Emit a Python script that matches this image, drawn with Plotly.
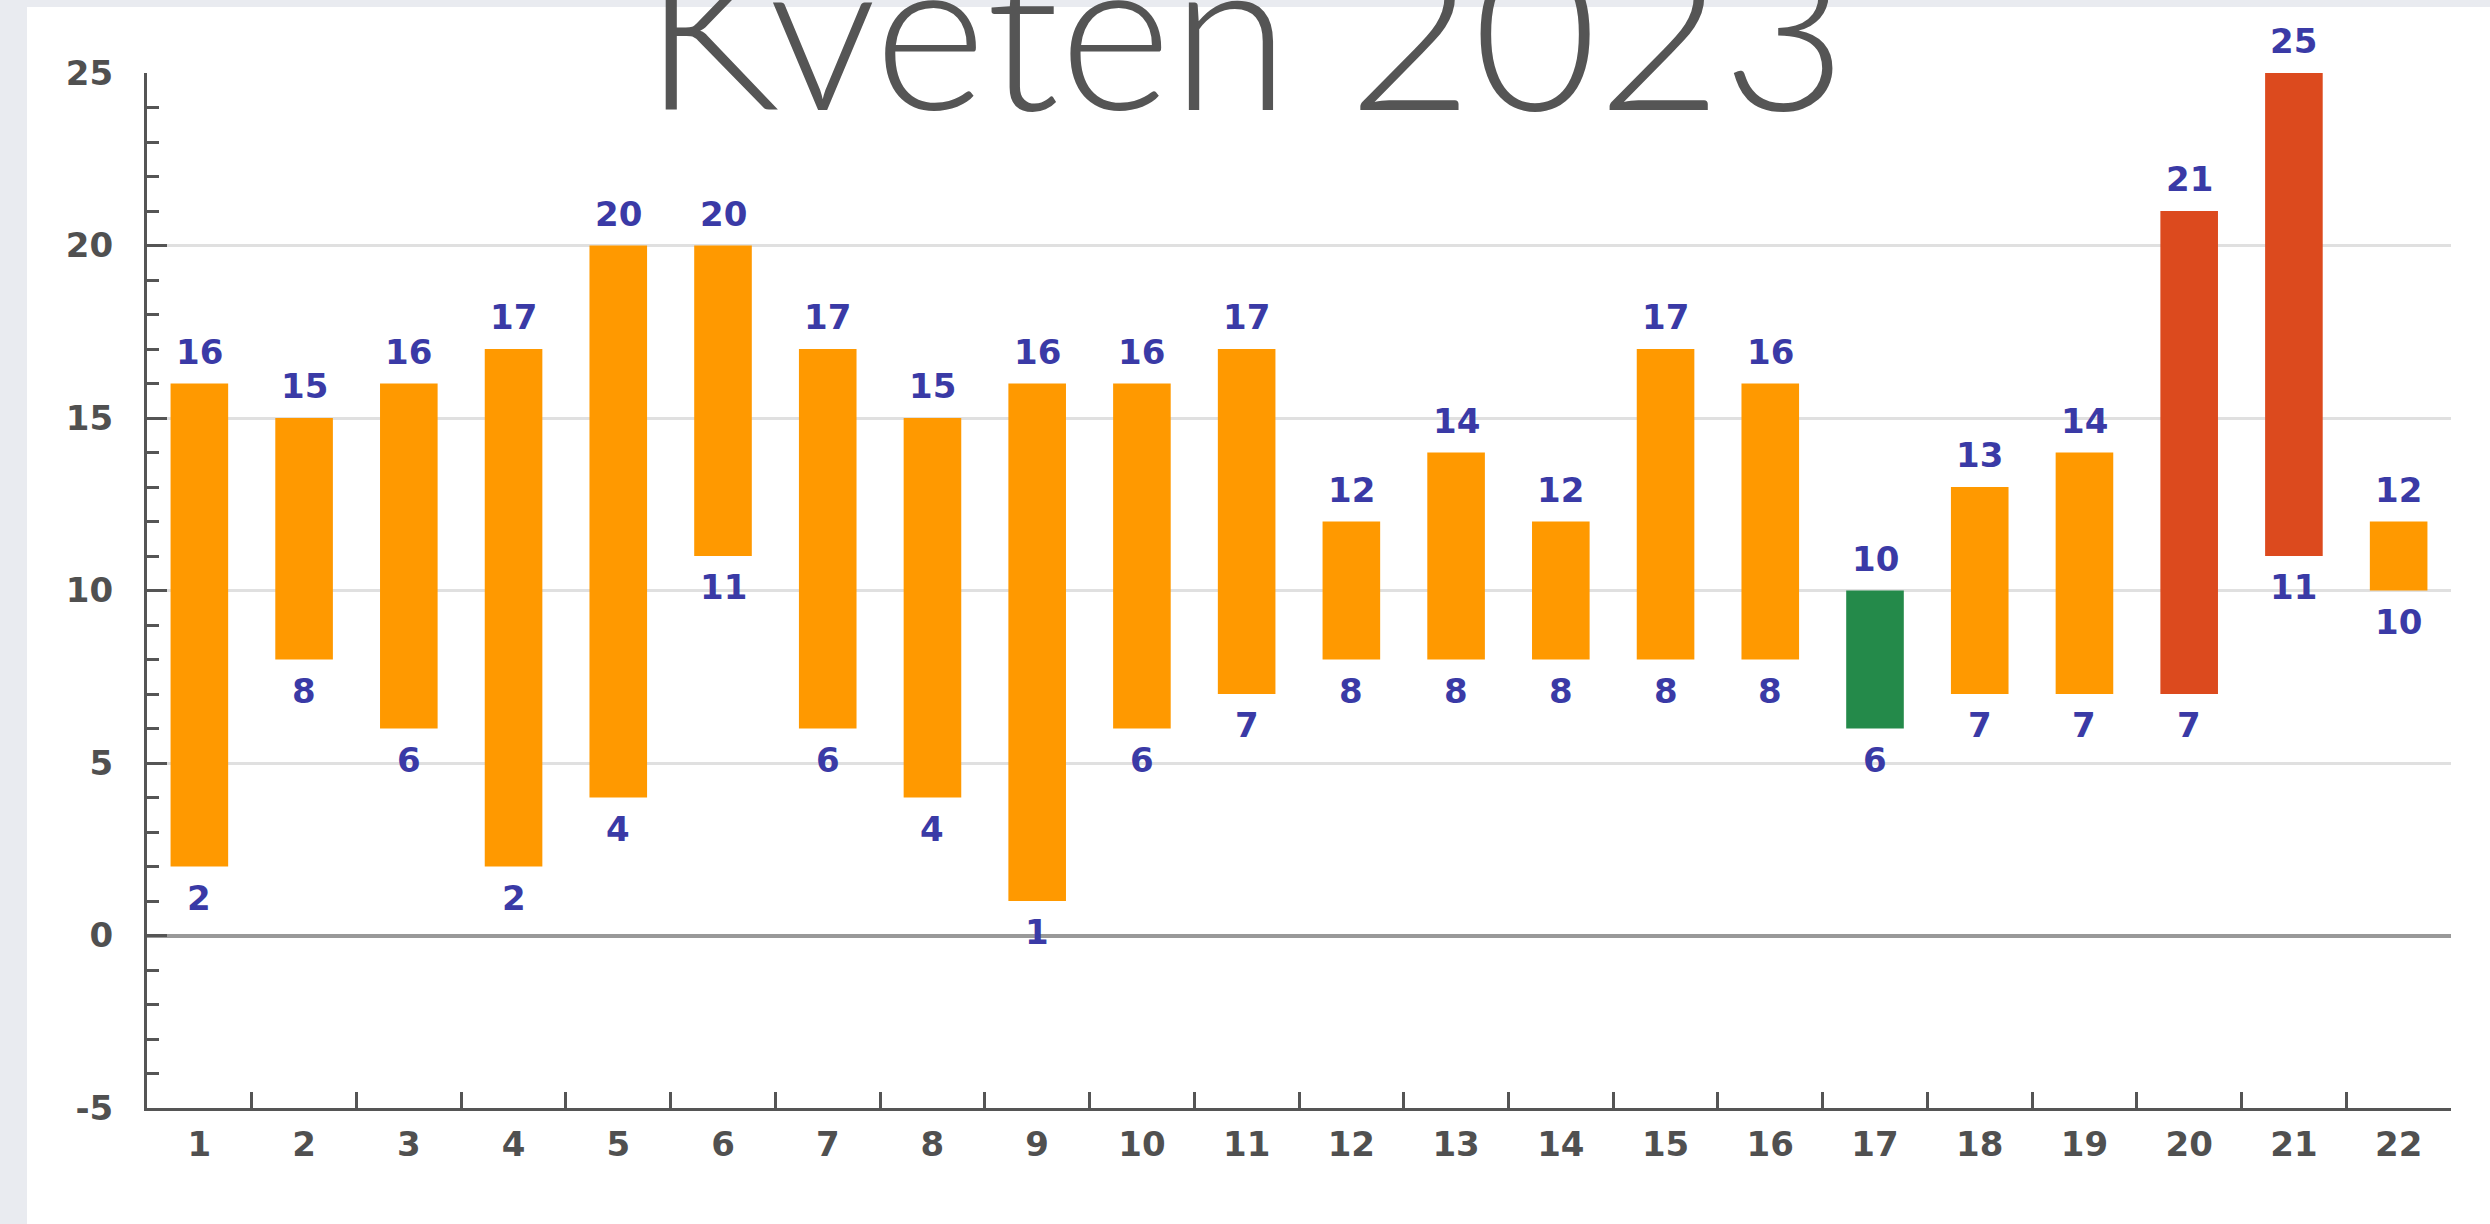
import plotly.graph_objects as go

# ---- data ----
days = ["1", "2", "3", "4", "5", "6", "7", "8", "9", "10", "11",
        "12", "13", "14", "15", "16", "17", "18", "19", "20", "21", "22"]
highs = [16, 15, 16, 17, 20, 20, 17, 15, 16, 16, 17, 12, 14, 12, 17, 16, 10, 13, 14, 21, 25, 12]
lows = [2, 8, 6, 2, 4, 11, 6, 4, 1, 6, 7, 8, 8, 8, 8, 8, 6, 7, 7, 7, 11, 10]
day_kind = ["normal", "normal", "normal", "normal", "normal", "normal", "normal", "normal",
            "normal", "normal", "normal", "normal", "normal", "normal", "normal", "normal",
            "cold", "normal", "normal", "hot", "hot", "normal"]
y_ticks = [-5, 0, 5, 10, 15, 20, 25]
y_tick_text = ["-5", "0", "5", "10", "15", "20", "25"]
title_text = "Květen 2023"

# ---- styles ----
kind_colors = {"normal": "#ff9900", "cold": "#248a4a", "hot": "#dc4a1e"}
label_color = "#3a3aa6"
axis_color = "#555555"
font_family = "DejaVu Sans"
fs = 34

fig = go.Figure()
fig.add_trace(go.Bar(
    x=days,
    y=[h - l for h, l in zip(highs, lows)],
    base=lows,
    width=0.55,
    marker=dict(color=[kind_colors[k] for k in day_kind], line=dict(width=0)),
    hoverinfo="skip",
))

annotations = []
for i, (h, l) in enumerate(zip(highs, lows)):
    # i is the category position of days[i] on the category axis
    annotations.append(dict(x=i, y=h, xref="x", yref="y", text=str(h), showarrow=False,
                            yanchor="bottom", yshift=10,
                            font=dict(family=font_family, size=fs, color=label_color, weight="bold")))
    annotations.append(dict(x=i, y=l, xref="x", yref="y", text=str(l), showarrow=False,
                            yanchor="top", yshift=-9,
                            font=dict(family=font_family, size=fs, color=label_color, weight="bold")))

W, H = 2490, 1224
ml, mr, mt, mb = 147, 39, 73, 116
pw, ph = W - ml - mr, H - mt - mb

def px_x(p):
    return (p - ml) / pw

def px_y(p):
    return (H - mb - p) / ph

fig.update_layout(
    width=W, height=H,
    margin=dict(l=ml, r=mr, t=mt, b=mb, pad=0),
    paper_bgcolor="#e9ebf0",
    plot_bgcolor="white",
    showlegend=False,
    title=dict(text=title_text, x=0.5, xref="container", xanchor="center",
               y=1 - 110 / H, yref="container", yanchor="bottom",
               font=dict(family="Lato", size=215, color="#555555", weight=300)),
    shapes=[dict(type="rect", xref="paper", yref="paper", layer="below",
                 x0=px_x(27), x1=px_x(W + 5), y0=px_y(H + 5), y1=px_y(7),
                 fillcolor="white", line=dict(width=0))],
    annotations=annotations,
    xaxis=dict(type="category", range=[-0.5, len(days) - 0.5],
               showgrid=False, showline=True, linecolor=axis_color, linewidth=3,
               ticks="inside", tickson="boundaries", ticklen=16, tickwidth=3, tickcolor=axis_color,
               tickfont=dict(family=font_family, size=fs, color="#505050", weight="bold"),
               ticklabelstandoff=4, zeroline=False),
    yaxis=dict(range=[-5, 25], tickvals=y_ticks, ticktext=y_tick_text,
               showgrid=True, gridcolor="#e0e0e0", gridwidth=3,
               zeroline=True, zerolinecolor="#999999", zerolinewidth=4,
               showline=True, linecolor=axis_color, linewidth=3,
               ticks="inside", ticklen=20, tickwidth=3, tickcolor=axis_color,
               minor=dict(dtick=1, ticks="inside", ticklen=12, tickwidth=3, tickcolor=axis_color, showgrid=False),
               tickfont=dict(family=font_family, size=fs, color="#505050", weight="bold"),
               ticklabelstandoff=24),
)

fig.write_html("out.html", config={"displayModeBar": False},
               post_script="document.body.style.margin='0';")
